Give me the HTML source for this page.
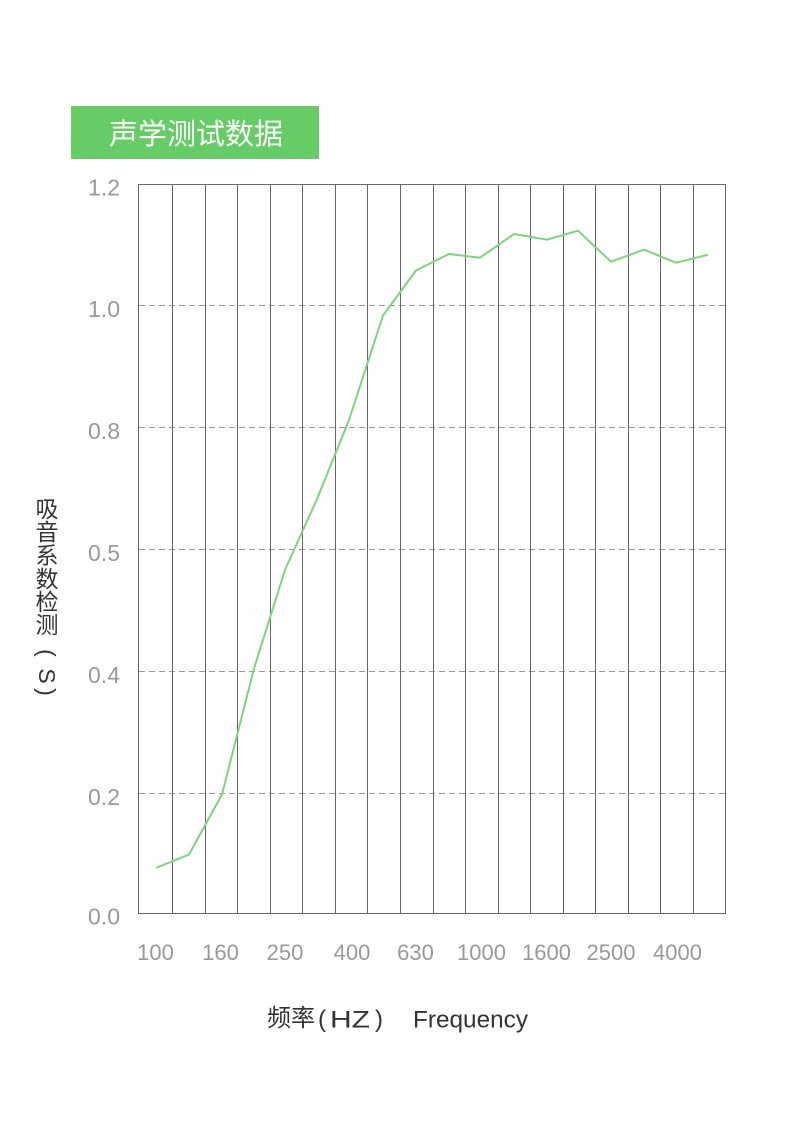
<!DOCTYPE html>
<html>
<head>
<meta charset="utf-8">
<style>
  html, body { margin: 0; padding: 0; background: #ffffff; }
  body { width: 790px; height: 1133px; overflow: hidden; }
  svg { display: block; }
  .cjk { font-family: "Liberation Sans", "Noto Sans CJK SC", sans-serif; }
  .lat { font-family: "Liberation Sans", "DejaVu Sans", sans-serif; }
</style>
</head>
<body>
<svg width="790" height="1133" viewBox="0 0 790 1133" xmlns="http://www.w3.org/2000/svg">
  <rect x="0" y="0" width="790" height="1133" fill="#ffffff"/>

  <!-- Title box -->
  <rect x="71" y="106" width="248" height="53" fill="#66cc66"/>
  <text class="cjk" x="196" y="144" font-size="29" fill="#ffffff" text-anchor="middle">声学测试数据</text>

  <!-- dashed gridlines -->
  <g stroke="#999999" stroke-width="1" stroke-dasharray="6,4" fill="none">
    <line x1="139" y1="305.5" x2="725" y2="305.5"/>
    <line x1="139" y1="427.5" x2="725" y2="427.5"/>
    <line x1="139" y1="549.5" x2="725" y2="549.5"/>
    <line x1="139" y1="671.5" x2="725" y2="671.5"/>
    <line x1="139" y1="793.5" x2="725" y2="793.5"/>
  </g>

  <!-- vertical lines -->
  <g stroke="#666666" stroke-width="1" fill="none">
    <line x1="138.5" y1="184" x2="138.5" y2="914"/>
    <line x1="172.5" y1="184" x2="172.5" y2="914"/>
    <line x1="205.5" y1="184" x2="205.5" y2="914"/>
    <line x1="237.5" y1="184" x2="237.5" y2="914"/>
    <line x1="270.5" y1="184" x2="270.5" y2="914"/>
    <line x1="302.5" y1="184" x2="302.5" y2="914"/>
    <line x1="335.5" y1="184" x2="335.5" y2="914"/>
    <line x1="367.5" y1="184" x2="367.5" y2="914"/>
    <line x1="400.5" y1="184" x2="400.5" y2="914"/>
    <line x1="433.5" y1="184" x2="433.5" y2="914"/>
    <line x1="465.5" y1="184" x2="465.5" y2="914"/>
    <line x1="498.5" y1="184" x2="498.5" y2="914"/>
    <line x1="530.5" y1="184" x2="530.5" y2="914"/>
    <line x1="563.5" y1="184" x2="563.5" y2="914"/>
    <line x1="595.5" y1="184" x2="595.5" y2="914"/>
    <line x1="628.5" y1="184" x2="628.5" y2="914"/>
    <line x1="660.5" y1="184" x2="660.5" y2="914"/>
    <line x1="693.5" y1="184" x2="693.5" y2="914"/>
    <line x1="725.5" y1="184" x2="725.5" y2="914"/>
    <line x1="138" y1="184.5" x2="726" y2="184.5"/>
    <line x1="138" y1="913.5" x2="726" y2="913.5"/>
  </g>

  <!-- data line -->
  <polyline fill="none" stroke="#7ad67a" stroke-width="2" stroke-linejoin="round" stroke-linecap="round"
    points="157,867.5 189,854.5 222,794.5 254,668.5 285,570 317,499 349,420 383,315.5 416,270.5 449,254 480,257.7 514,234 547,239.7 578,230.7 611,261.7 644,249.7 676,262.7 707,255"/>

  <!-- Y tick labels -->
  <g class="lat" font-size="23" fill="#999999" text-anchor="end">
    <text x="120" y="195.5">1.2</text>
    <text x="120" y="317">1.0</text>
    <text x="120" y="439">0.8</text>
    <text x="120" y="561">0.5</text>
    <text x="120" y="683">0.4</text>
    <text x="120" y="805">0.2</text>
    <text x="120" y="924.5">0.0</text>
  </g>

  <!-- X tick labels -->
  <g class="lat" font-size="22" fill="#999999" text-anchor="middle">
    <text x="155.5" y="960">100</text>
    <text x="220.5" y="960">160</text>
    <text x="285" y="960">250</text>
    <text x="352" y="960">400</text>
    <text x="415.5" y="960">630</text>
    <text x="481.5" y="960">1000</text>
    <text x="546.5" y="960">1600</text>
    <text x="611" y="960">2500</text>
    <text x="677.5" y="960">4000</text>
  </g>

  <!-- X axis title -->
  <g fill="#333333">
    <text class="cjk" x="267" y="1026" font-size="24">频率</text>
    <text class="lat" x="318" y="1027" font-size="24">(</text>
    <text class="lat" x="330" y="1027.5" font-size="24" textLength="40" lengthAdjust="spacingAndGlyphs">HZ</text>
    <text class="lat" x="375" y="1027" font-size="24">)</text>
    <text class="lat" x="413" y="1027.5" font-size="24" textLength="115" lengthAdjust="spacingAndGlyphs">Frequency</text>
  </g>

  <!-- Y axis title (vertical) -->
  <g fill="#333333" font-size="23" text-anchor="middle">
    <text class="cjk" x="47" y="517">吸</text>
    <text class="cjk" x="47" y="540">音</text>
    <text class="cjk" x="47" y="563.5">系</text>
    <text class="cjk" x="47" y="587">数</text>
    <text class="cjk" x="47" y="610">检</text>
    <text class="cjk" x="47" y="633">测</text>
    <text class="lat" transform="translate(47,653) rotate(90)" dominant-baseline="central">(</text>
    <text class="lat" transform="translate(47,676) rotate(90)" dominant-baseline="central">S</text>
    <text class="lat" transform="translate(47,692) rotate(90)" dominant-baseline="central">)</text>
  </g>
</svg>
</body>
</html>
